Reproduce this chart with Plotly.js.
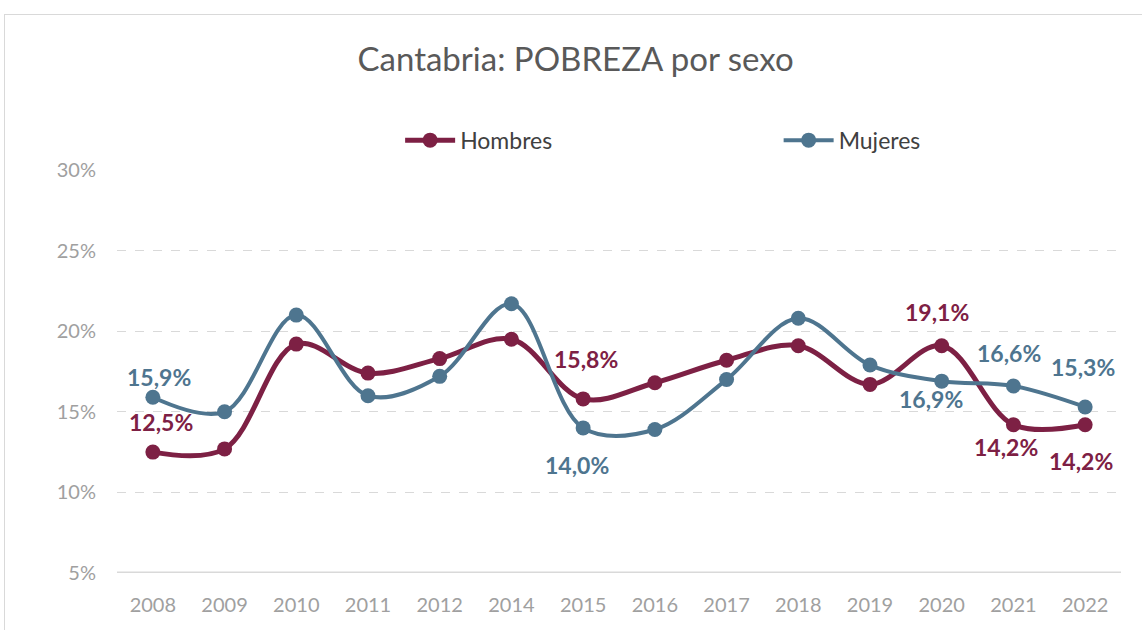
<!DOCTYPE html>
<html>
<head>
<meta charset="utf-8">
<script src="https://cdn.plot.ly/plotly-3.0.1.min.js"></script>
<style>
  html, body { margin: 0; padding: 0; background: #ffffff; }
  #wrap { position: relative; width: 1142px; height: 630px; overflow: hidden; }
  #frame { position: absolute; left: 4px; top: 14px; width: 1200px; height: 700px;
           border-top: 1px solid #d9d9d9; border-left: 1px solid #d9d9d9; pointer-events: none; }
  #chart { position: absolute; left: 0; top: 0; width: 1142px; height: 630px; }
</style>
</head>
<body>
<div id="wrap">
  <div id="chart"></div>
  <div id="frame"></div>
</div>
<script>
const years = ["2008","2009","2010","2011","2012","2014","2015","2016","2017","2018","2019","2020","2021","2022"];
const hombres = [12.5, 12.7, 19.2, 17.4, 18.3, 19.5, 15.8, 16.8, 18.2, 19.1, 16.7, 19.1, 14.2, 14.2];
const mujeres = [15.9, 15.0, 21.0, 16.0, 17.2, 21.7, 14.0, 13.9, 17.0, 20.8, 17.9, 16.9, 16.6, 15.3];
const yTicks = [5, 10, 15, 20, 25, 30];

// which points carry a data label, and where it sits (style only)
const hombresLabels = {"2008": [8, 30], "2015": [3, 40], "2020": [-5, 34], "2021": [-7, -22], "2022": [-4, -36]};
const mujeresLabels = {"2008": [6, 20], "2015": [-6, -37], "2020": [-11, -18], "2021": [-4, 33], "2022": [-2, 40]};

const cH = "#7d2044";
const cM = "#4e758f";

function fmt(v) { return v.toFixed(1).replace(".", ",") + "%"; }

const annotations = [];
function addLabels(vals, labels, color) {
  years.forEach((yr, i) => {
    if (labels[yr]) {
      annotations.push({
        x: i, y: vals[i], xref: "x", yref: "y",
        text: "<b>" + fmt(vals[i]) + "</b>", showarrow: false,
        xshift: labels[yr][0], yshift: labels[yr][1],
        font: {family: "Lato, 'Open Sans', sans-serif", size: 23, color: color}
      });
    }
  });
}
addLabels(hombres, hombresLabels, cH);
addLabels(mujeres, mujeresLabels, cM);

const traces = [
  {x: years, y: hombres, name: "Hombres", type: "scatter", mode: "lines+markers",
   line: {color: cH, width: 5, shape: "spline", smoothing: 1},
   marker: {color: cH, size: 15}, legend: "legend"},
  {x: years, y: mujeres, name: "Mujeres", type: "scatter", mode: "lines+markers",
   line: {color: cM, width: 4, shape: "spline", smoothing: 1},
   marker: {color: cM, size: 15}, legend: "legend2"}
];

const legendBase = {orientation: "h", xanchor: "left", y: 1.074, yanchor: "middle",
                    itemwidth: 50, font: {size: 23, color: "#404040"},
                    bgcolor: "rgba(0,0,0,0)"};

const layout = {
  width: 1142, height: 630,
  margin: {l: 117, r: 21, t: 170, b: 57},
  paper_bgcolor: "#ffffff", plot_bgcolor: "#ffffff",
  font: {family: "Lato, 'Open Sans', sans-serif"},
  title: {text: "Cantabria: POBREZA por sexo", x: 0.504, xanchor: "center",
          y: 0.905, yanchor: "middle", yref: "container",
          font: {size: 33, color: "#595959", family: "Lato, 'Open Sans', sans-serif"}},
  showlegend: true,
  legend: Object.assign({}, legendBase, {x: 0.282}),
  legend2: Object.assign({}, legendBase, {x: 0.659}),
  xaxis: {type: "category", categoryorder: "array", categoryarray: years,
          range: [-0.5, years.length - 0.5], showgrid: false, zeroline: false,
          showline: false, ticks: "", ticklabelstandoff: 18,
          tickfont: {size: 20, color: "#a0a0a0"}},
  yaxis: {range: [5, 30], tickvals: yTicks, ticktext: yTicks.map(v => v + "%"),
          showgrid: true, gridcolor: "#d9d9d9", griddash: "dash", gridwidth: 1,
          zeroline: false, showline: false, ticks: "", ticklabelstandoff: 20,
          tickfont: {size: 20, color: "#a0a0a0"}},
  shapes: [{type: "line", xref: "paper", yref: "y", x0: 0, x1: 1, y0: 5, y1: 5,
            line: {color: "#d9d9d9", width: 3}}],
  annotations: annotations
};

Plotly.newPlot("chart", traces, layout, {displayModeBar: false, staticPlot: true});
</script>
</body>
</html>
